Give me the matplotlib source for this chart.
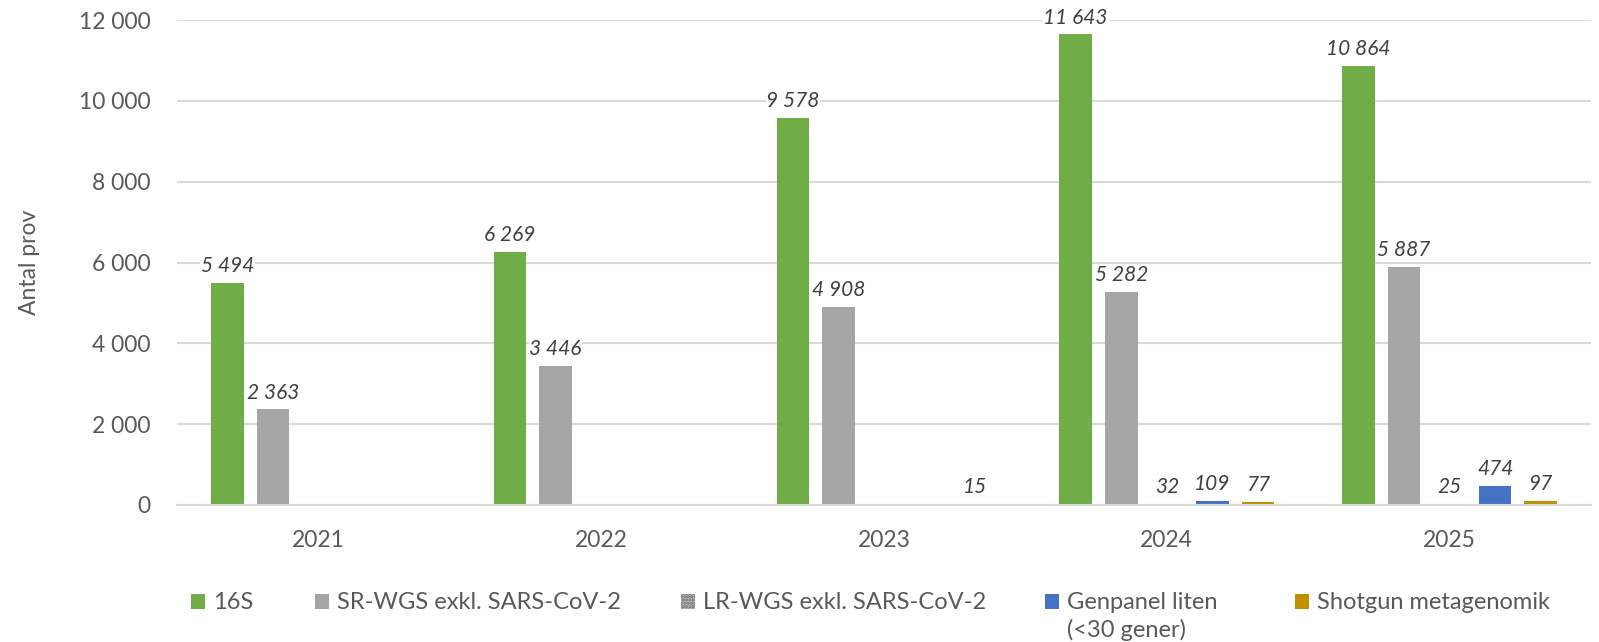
import matplotlib
matplotlib.use("Agg")
import matplotlib.pyplot as plt
import numpy as np

years = ["2021", "2022", "2023", "2024", "2025"]
series_names = ["16S", "SR-WGS exkl. SARS-CoV-2", "LR-WGS exkl. SARS-CoV-2",
                "Genpanel liten", "Shotgun metagenomik"]
genpanel_note = "(<30 gener)"
v_16s = [5494, 6269, 9578, 11643, 10864]
v_sr_wgs = [2363, 3446, 4908, 5282, 5887]
v_lr_wgs = [None, None, None, 32, 25]
v_genpanel = [None, None, None, 109, 474]
v_shotgun = [None, None, 15, 77, 97]

colors = ["#70AD47", "#A5A5A5", "#BFBFBF", "#4472C4", "#BF9000"]
text_col = "#595959"
# left edge (pixels) of each legend entry, like in the original layout
legend_x = [191, 315, 681, 1045, 1295]

plt.rcParams['font.family'] = ['Lato', 'DejaVu Sans']
plt.rcParams['hatch.linewidth'] = 1.5

fig = plt.figure(figsize=(15.99, 6.42), dpi=100)
ax = fig.add_axes([0.1107, 0.2134, 0.8843, 0.7554])

x = np.arange(len(years))
step = 0.161
width = 0.115
all_vals = [v_16s, v_sr_wgs, v_lr_wgs, v_genpanel, v_shotgun]

for i, (name, vals) in enumerate(zip(series_names, all_vals)):
    h = np.array([np.nan if v is None else v for v in vals], dtype=float)
    pos = x + (i - 2) * step
    if i == 2:
        bars = ax.bar(pos, h, width, label=name, facecolor="#B5B5B5",
                      edgecolor="#6F6F6F", hatch=".....", linewidth=0)
    else:
        bars = ax.bar(pos, h, width, label=name, color=colors[i])
    labels = ["" if v is None else f"{v:,}".replace(",", " ") for v in vals]
    ax.bar_label(bars, labels=labels, padding=5, fontsize=15, style="italic",
                 color="#404040",
                 bbox=dict(facecolor="white", edgecolor="none", pad=0.5))

ax.set_xlim(-0.5, 4.5)
ax.set_ylim(0, 12000)
ax.set_yticks(range(0, 12001, 2000))
ax.set_yticklabels([f"{t:,}".replace(",", " ") for t in range(0, 12001, 2000)])
ax.set_xticks(x)
ax.set_xticklabels(years)
ax.tick_params(axis="y", length=0, pad=19, labelsize=16.5, labelcolor=text_col)
ax.tick_params(axis="x", length=0, pad=18, labelsize=16.5, labelcolor=text_col)
ax.grid(axis="y", color="#D9D9D9", linewidth=1.5)
ax.set_axisbelow(True)
for s in ["top", "right", "left"]:
    ax.spines[s].set_visible(False)
ax.spines["bottom"].set_color("#D9D9D9")
ax.spines["bottom"].set_linewidth(1.5)

ax.set_ylabel("Antal prov", fontsize=16.5, color=text_col, labelpad=28)

# one small legend per entry so the entries sit where they do in the original
handles, names = ax.get_legend_handles_labels()
legs = []
for hnd, nm, lx in zip(handles, names, legend_x):
    leg = fig.legend([hnd], [nm], loc="center left",
                     bbox_to_anchor=(lx / 1599, 0.061),
                     frameon=False, fontsize=17, labelcolor=text_col,
                     handlelength=0.6, handleheight=0.6, handletextpad=0.35,
                     borderaxespad=0, borderpad=0)
    legs.append(leg)

# second line of the Genpanel legend entry, placed under its first line
fig.canvas.draw()
bb = legs[3].get_texts()[0].get_window_extent()
fig.text(bb.x0 / fig.bbox.width, (bb.y0 - 27 + bb.height / 2) / fig.bbox.height,
         genpanel_note, fontsize=17, color=text_col, ha="left", va="center")

fig.savefig("out.png", dpi=100)
